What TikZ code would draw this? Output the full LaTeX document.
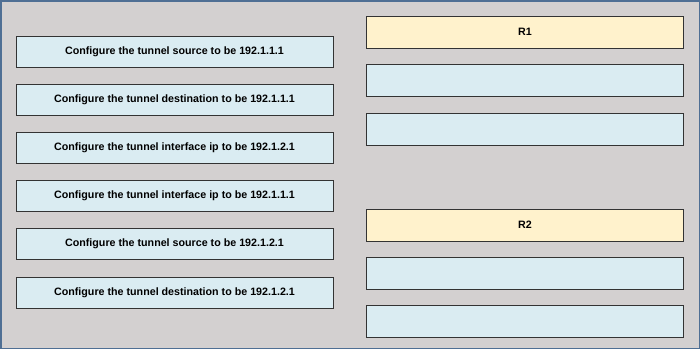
\documentclass[tikz,border=0pt]{standalone}
\usepackage{fontspec}
\setmainfont{Liberation Sans}
\definecolor{bgc}{HTML}{D3D0D0}
\definecolor{framec}{HTML}{4F6F94}
\definecolor{bluec}{HTML}{DAECF2}
\definecolor{yelc}{HTML}{FFF2CC}
\definecolor{edgec}{HTML}{333333}
\begin{document}
\begin{tikzpicture}[x=1pt,y=-1pt,
  optbox/.style={draw=edgec,line width=1pt,fill=bluec,minimum width=317pt,minimum height=31pt,inner sep=0pt,font=\fontsize{10.7}{12}\selectfont\bfseries,text=black},
  slotbox/.style={draw=edgec,line width=1pt,fill=bluec,minimum width=317pt,minimum height=32pt,inner sep=0pt},
  hdrbox/.style={draw=edgec,line width=1pt,fill=yelc,minimum width=317pt,minimum height=32pt,inner sep=0pt,font=\fontsize{10.7}{12}\selectfont\bfseries,text=black}]
\useasboundingbox (0,0) rectangle (700,349);
\fill[bgc] (0,0) rectangle (700,349);
\draw[framec,line width=1.5pt] (0.75,0.75) rectangle (699.25,348.25);
% left options
\node[optbox] (o1) at (174.5,51.5) {Configure the tunnel source to be 192.1.1.1};
\node[optbox] (o2) at (174.5,100) {Configure the tunnel destination to be 192.1.1.1};
\node[optbox] (o3) at (174.5,148) {Configure the tunnel interface ip to be 192.1.2.1};
\node[optbox] (o4) at (174.5,196) {Configure the tunnel interface ip to be 192.1.1.1};
\node[optbox] (o5) at (174.5,244) {Configure the tunnel source to be 192.1.2.1};
\node[optbox] (o6) at (174.5,292.5) {Configure the tunnel destination to be 192.1.2.1};
% right targets
\node[hdrbox] (r1) at (525,32) {R1};
\node[slotbox] (r1a) at (525,80.5) {};
\node[slotbox] (r1b) at (525,129) {};
\node[hdrbox] (r2) at (525,225) {R2};
\node[slotbox] (r2a) at (525,273) {};
\node[slotbox] (r2b) at (525,321) {};
\end{tikzpicture}
\end{document}
